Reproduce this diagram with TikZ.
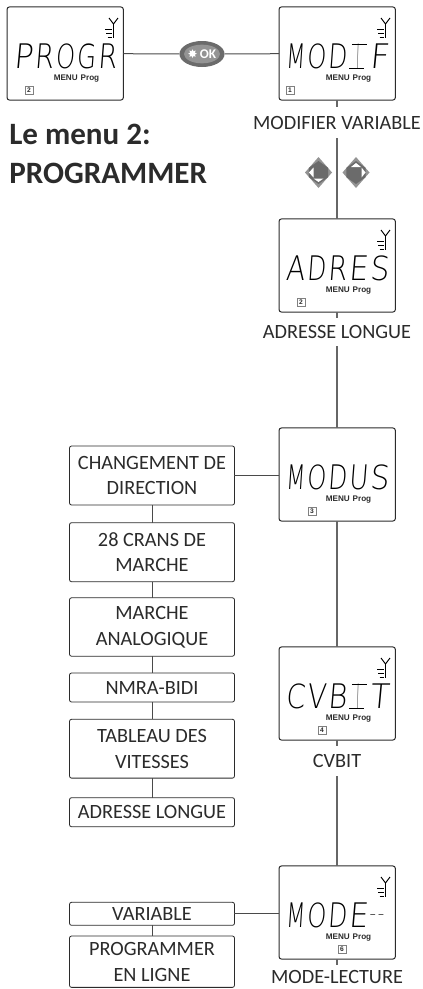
\documentclass[tikz,border=0pt]{standalone}
\usepackage{fontspec}
\usepackage{graphicx}
\usetikzlibrary{shapes.geometric}
\setmainfont{Carlito}
\newfontfamily\lcdfont[FakeSlant=0.1]{DejaVu Sans ExtraLight}
\newfontfamily\smallfont{Liberation Sans}
\newfontfamily\symfont{DejaVu Sans}
\definecolor{inkc}{HTML}{2b2b2b}
\definecolor{linec}{HTML}{4a4a4a}
\definecolor{vlinec}{HTML}{666666}
\newcommand{\lc}[1]{\makebox[15.75pt][l]{\resizebox{14.3pt}{18.5pt}{#1}}}
\newcommand{\lci}{\makebox[15.75pt][l]{\hspace{0.5pt}\rlap{\rule{11pt}{0.7pt}}\rlap{\hspace{2pt}\rule[17.8pt]{11pt}{0.7pt}}\hspace{5.5pt}\resizebox{1.6pt}{18.5pt}{I}}}
\newcommand{\lcs}[1]{\makebox[6.2pt][l]{\raisebox{8.5pt}{\resizebox{4.8pt}{1.3pt}{\smallfont\bfseries #1}}}}
\tikzset{
  lcdbox/.style={draw=inkc,line width=0.75pt,rounded corners=1.8pt,fill=white,minimum width=87.2pt,minimum height=69.8pt,inner sep=0pt,outer sep=0pt},
  lcdword/.style={anchor=west,inner sep=0pt,outer sep=0pt,font=\lcdfont,text=black},
  menuword/.style={inner sep=0pt,font=\smallfont\bfseries\fontsize{6.1}{7}\selectfont,text=inkc},
  numbox/.style={draw=gray,line width=0.45pt,minimum size=6pt,inner sep=0pt,font=\smallfont\bfseries\fontsize{5}{5}\selectfont,text=inkc},
  menubox/.style={draw=inkc,line width=0.6pt,rounded corners=1.5pt,fill=white,minimum width=123.7pt,inner sep=0pt,outer sep=0pt,align=center,font=\fontsize{15.2}{19.4}\selectfont,text=inkc},
  lab/.style={inner sep=0pt,outer sep=0pt,font=\fontsize{15.2}{17}\selectfont,text=inkc},
  hconn/.style={draw=linec,line width=0.75pt},
  vconn/.style={draw=vlinec,line width=1.1pt},
  sconn/.style={draw=linec,line width=0.75pt},
  head/.style={anchor=west,inner sep=0pt,font=\bfseries\fontsize{23.3}{28}\selectfont,text=inkc},
  dout/.style={fill=black!42,draw=none},
  dinn/.style={fill=black!58,draw=none},
  dtri/.style={fill=white,draw=none},
}
% #1 name, #2 left, #3 top, #4 word, #5 number offset, #6 digit
\newcommand{\lcdisplay}[6]{%
  \node[lcdbox] (#1) at ({#2+58.2},{#3+46.5}) {};
  \node[lcdword] (#1w) at ({#2+6.5},{#3+49.5}) {#4};
  \node[menuword] (#1m) at ({#2+69.5},{#3+72}) {MENU\hspace{2.2pt}Prog};
  \node[numbox] (#1n) at ({#2+#5},{#3+83}) {#6};
}
\newcommand{\antenna}[2]{%
  \draw[black,line width=0.7pt] ({#1+102},{#2+11}) -- ({#1+106.5},{#2+17}) -- ({#1+111},{#2+11});
  \draw[black,line width=1.4pt] ({#1+106.5},{#2+16}) -- ({#1+106.5},{#2+31});
  \draw[black,line width=1.2pt] ({#1+98},{#2+22.5}) -- ({#1+105},{#2+22.5});
  \draw[black,line width=1.2pt] ({#1+99},{#2+26.5}) -- ({#1+105},{#2+26.5});
  \draw[black,line width=1.2pt] ({#1+100.5},{#2+30.5}) -- ({#1+105},{#2+30.5});
}
% #1 centre x, #2 centre y, #3 half width, #4 half height
\newcommand{\diamondbase}[4]{%
  \fill[dout] ({#1-#3},#2) -- (#1,{#2-#4}) -- ({#1+#3},#2) -- (#1,{#2+#4}) -- cycle;
  \fill[dinn] ({#1-0.72*#3},{#2-0.3*#4}) -- (#1,{#2-0.74*#4}) -- ({#1+0.72*#3},{#2-0.3*#4}) -- ({#1+0.72*#3},{#2+0.3*#4}) -- (#1,{#2+0.74*#4}) -- ({#1-0.72*#3},{#2+0.3*#4}) -- cycle;
}
\begin{document}
\begin{tikzpicture}[x=0.75pt,y=-0.75pt]
\useasboundingbox (0,0) rectangle (422,989);

\lcdisplay{dprog}{7}{7}{\lc{P}\lc{R}\lc{O}\lc{G}\lc{R}}{22}{2}
\antenna{7}{7}
\lcdisplay{dmodif}{279}{7}{\lc{M}\lc{O}\lc{D}\lci\lc{F}}{11}{1}
\antenna{279}{7}
\lcdisplay{dadres}{279}{219}{\lc{A}\lc{D}\lc{R}\lc{E}\lc{S}}{22}{2}
\antenna{279}{219}
\lcdisplay{dmodus}{279}{428}{\lc{M}\lc{O}\lc{D}\lc{U}\lc{S}}{33}{3}
\lcdisplay{dcvbit}{279}{647}{\lc{C}\lc{V}\lc{B}\lci\lc{T}}{43}{4}
\antenna{279}{647}
\lcdisplay{dmode}{279}{866}{\lc{M}\lc{O}\lc{D}\lc{E}\lcs{-}\lcs{-}}{63}{6}
\antenna{279}{866}

% heading
\node[head] (h1) at (9,134) {Le menu 2:};
\node[head] (h2) at (9,173) {PROGRAMMER};

% OK button
\node[ellipse,fill=black!58,minimum width=33.8pt,minimum height=19.5pt,inner sep=0pt,outer sep=0pt] (ok) at (202,54) {};
\node[ellipse,fill=black!42,minimum width=27pt,minimum height=14pt,inner sep=0pt] (okin) at (202,54) {};
\node[inner sep=0pt,text=white,font=\bfseries\fontsize{10}{10}\selectfont] (oktext) at (202,54) {{\symfont\fontsize{9}{9}\selectfont ✸}\,OK};
\draw[hconn] (dprog) -- (ok);
\draw[hconn] (ok) -- (dmodif);

% right column labels
\node[lab,minimum height=23.25pt] (lmodif) at (337,122.5) {\raisebox{-1.2pt}{MODIFIER VARIABLE}};
\node[lab,minimum height=21pt] (ladres) at (337,332) {\raisebox{-1.5pt}{ADRESSE LONGUE}};
\node[lab,minimum height=22.5pt] (lcvbit) at (337,761) {\raisebox{-1.2pt}{CVBIT}};
\node[lab,minimum height=18pt] (lmode) at (337,977) {\raisebox{-2pt}{MODE-LECTURE}};

\draw[vconn] (dmodif.south -| lmodif.north) -- (lmodif.north);
\draw[vconn] (lmodif.south) -- (dadres.north -| lmodif.south);
\draw[vconn] (dadres.south -| ladres.north) -- (ladres.north);
\draw[vconn] (ladres.south) -- (dmodus.north -| ladres.south);
\draw[vconn] (dmodus.south -| lcvbit.north) -- (dcvbit.north -| lcvbit.north);
\draw[vconn] (dcvbit.south -| lcvbit.north) -- (lcvbit.north);
\draw[vconn] (lcvbit.south) -- (dmode.north -| lcvbit.south);
\draw[vconn] (dmode.south -| lmode.north) -- (lmode.north);

% arrow keys
\diamondbase{318.5}{172.5}{13.5}{15.5}
\fill[dtri] (309,172.5) -- (313.5,167.5) -- (313.5,177.5) -- cycle;
\fill[dtri] (318.5,182) -- (313.5,178.5) -- (323.5,178.5) -- cycle;
\diamondbase{356}{172.5}{13.5}{15.5}
\fill[dtri] (356,163) -- (351,167) -- (361,167) -- cycle;
\fill[dtri] (365.5,172.5) -- (361.5,167.5) -- (361.5,177.5) -- cycle;

% menu boxes
\node[menubox,minimum height=44.25pt] (b1) at (152,475.5) {CHANGEMENT DE\\DIRECTION};
\node[menubox,minimum height=44.25pt] (b2) at (152,552.2) {28 CRANS DE\\MARCHE};
\node[menubox,minimum height=43.8pt] (b3) at (152,627) {MARCHE\\ANALOGIQUE};
\node[menubox,minimum height=21.75pt] (b4) at (152,687.5) {NMRA-BIDI};
\node[menubox,minimum height=44.1pt] (b5) at (152,748.7) {TABLEAU DES\\VITESSES};
\node[menubox,minimum height=21.75pt] (b6) at (152,812.2) {ADRESSE LONGUE};
\node[menubox,minimum height=17.25pt] (b7) at (152,913.8) {VARIABLE};
\node[menubox,minimum height=38.5pt] (b8) at (152,961.7) {PROGRAMMER\\EN LIGNE};

\draw[sconn] (b1) -- (b2);
\draw[sconn] (b2) -- (b3);
\draw[sconn] (b3) -- (b4);
\draw[sconn] (b4) -- (b5);
\draw[sconn] (b5) -- (b6);
\draw[sconn] (b7) -- (b8);
\draw[hconn] (b1.east) -- (b1.east -| dmodus.west);
\draw[hconn] (b7.east) -- (b7.east -| dmode.west);
\end{tikzpicture}
\end{document}
